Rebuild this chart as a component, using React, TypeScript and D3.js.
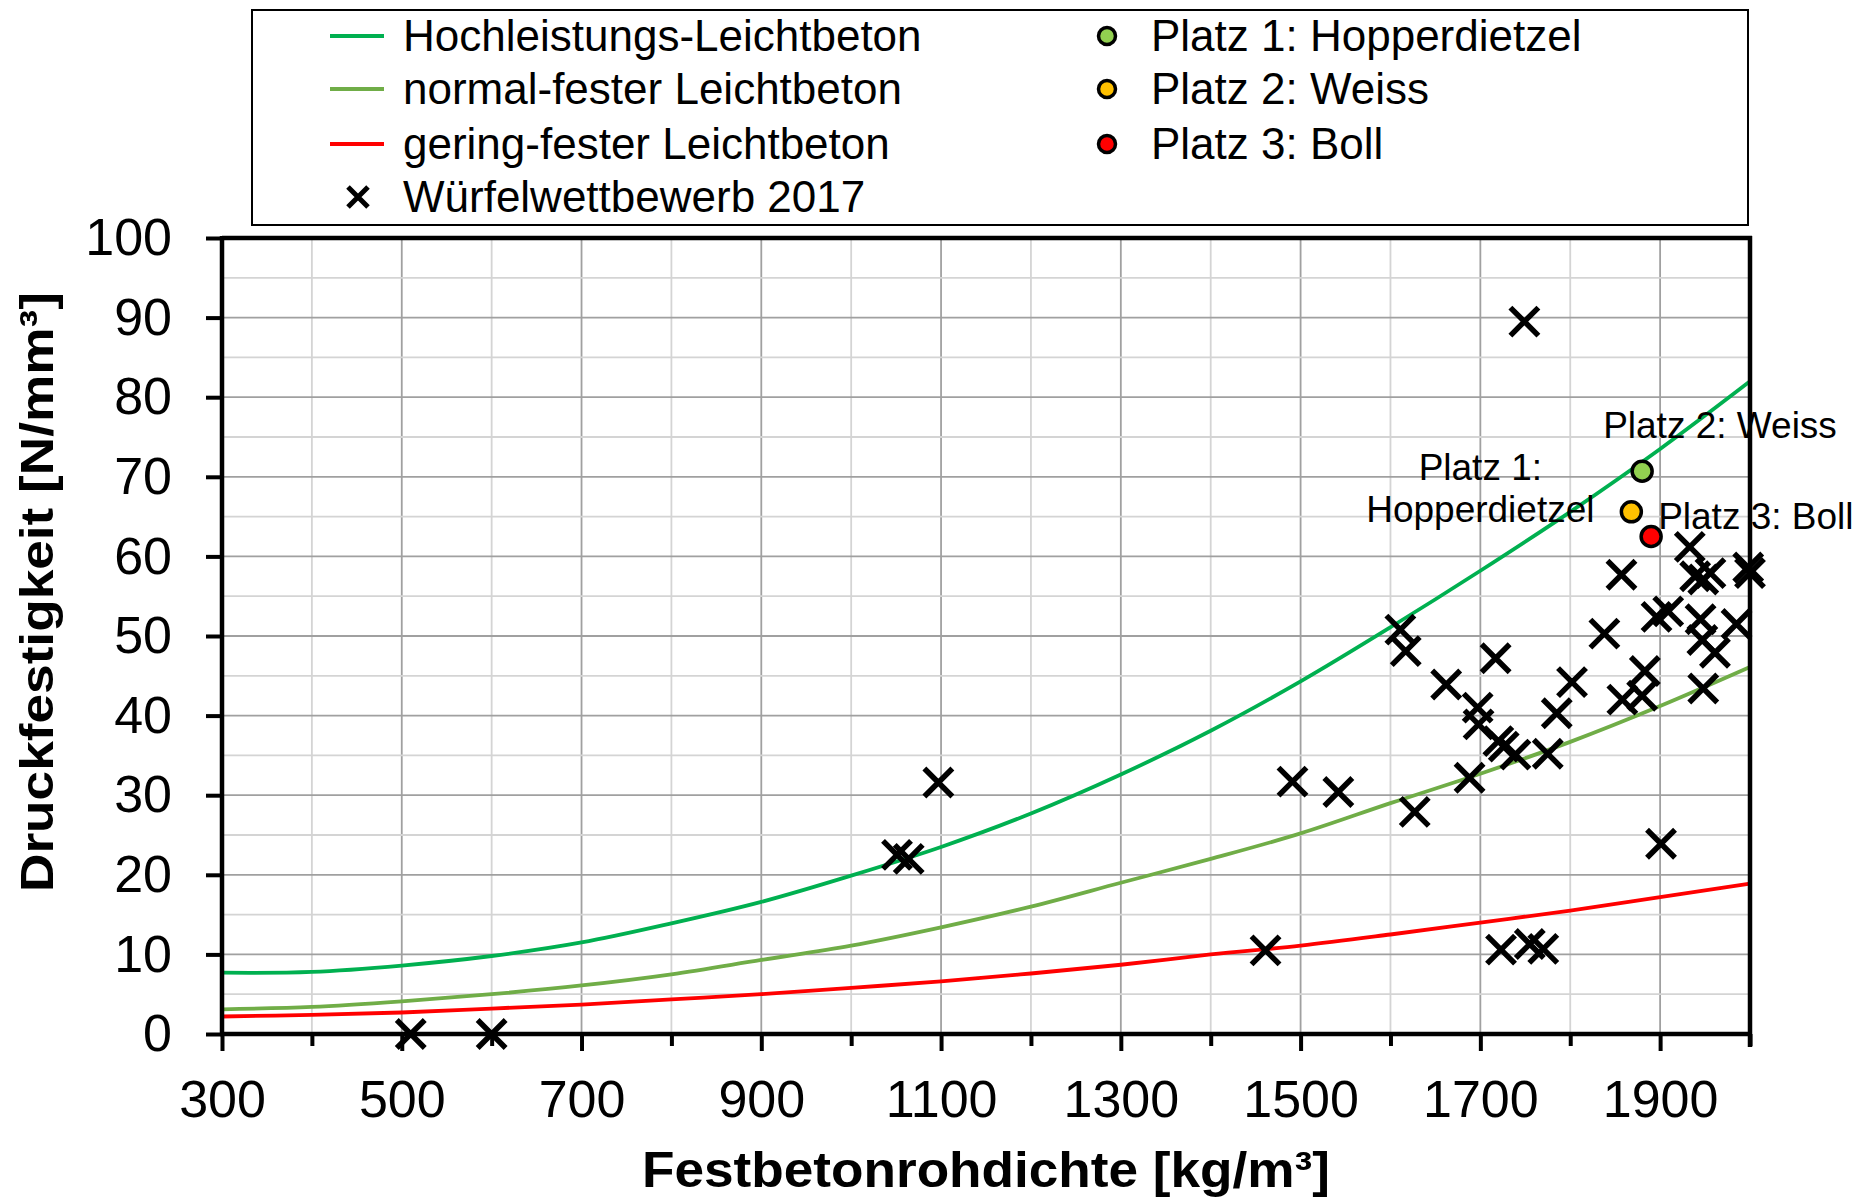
import * as React from 'react'
import { useEffect, useRef } from 'react'
import * as d3 from 'd3'

// Festbetonrohdichte-Stützstellen der Kurven [kg/m³]
const densitySteps = [300, 400, 500, 600, 700, 800, 900, 1000, 1100, 1200, 1300, 1400, 1500, 1600, 1700, 1800, 1900, 2000]
const hochleistung = [7.7, 7.8, 8.6, 9.8, 11.5, 13.9, 16.6, 19.9, 23.5, 27.7, 32.6, 38.1, 44.3, 51.1, 58.2, 65.6, 73.5, 82.0]
const normalFest = [3.1, 3.4, 4.1, 5.0, 6.1, 7.5, 9.3, 11.1, 13.4, 16.0, 19.0, 22.0, 25.2, 29.0, 32.7, 36.7, 41.2, 46.1]
const geringFest = [2.2, 2.4, 2.7, 3.2, 3.7, 4.35, 5.0, 5.8, 6.6, 7.6, 8.7, 10.0, 11.1, 12.5, 14.0, 15.5, 17.2, 18.9]

// Würfelwettbewerb 2017
const wuerfelDichte = [510, 600, 1051, 1064, 1097, 1461, 1491, 1542, 1611, 1617, 1627, 1662, 1688, 1697, 1698, 1717,
  1720, 1726, 1739, 1723, 1755, 1770, 1749, 1775, 1785, 1802, 1838, 1857, 1858, 1880, 1883, 1896, 1909, 1901,
  1933, 1939, 1948, 1956, 1945, 1947, 1961, 1948, 1985, 1998, 2000]
const wuerfelFestigkeit = [0, 0, 22.5, 22.0, 31.6, 10.5, 31.7, 30.4, 50.8, 48.1, 27.9, 43.9, 32.2, 41.0, 38.9, 47.2,
  36.8, 36.1, 35.1, 10.6, 11.3, 10.7, 89.5, 35.2, 40.3, 44.2, 50.3, 57.7, 42.0, 42.5, 45.6, 52.4, 53.1, 23.9,
  61.2, 57.5, 57.1, 57.9, 52.1, 49.5, 47.9, 43.4, 51.5, 58.6, 57.9]

const platzNamen = ['Platz 1: Hopperdietzel', 'Platz 2: Weiss', 'Platz 3: Boll']
const platzDichte = [1880, 1868, 1890]
const platzFestigkeit = [70.7, 65.6, 62.5]
const platzFarben = ['#92D050', '#FFC000', '#FF0000']

const kurvenNamen = ['Hochleistungs-Leichtbeton', 'normal-fester Leichtbeton', 'gering-fester Leichtbeton']
const kurvenFarben = ['#00B050', '#70AD47', '#FF0000']

const xTickLabels = [300, 500, 700, 900, 1100, 1300, 1500, 1700, 1900]
const yTickLabels = [0, 10, 20, 30, 40, 50, 60, 70, 80, 90, 100]

const FONT = '"Liberation Sans", Arial, sans-serif'

const App = () => {
  const chartRef = useRef<SVGSVGElement>(null)
  const width = 1870
  const height = 1201

  useEffect(() => {
    document.body.style.margin = '0'
    const svg = d3.select(chartRef.current)
    svg.selectAll('*').remove()

    const left = 222, right = 1750, top = 238, bottom = 1034

    const x = d3.scaleLinear().domain([300, 2000]).range([left, right])
    const y = d3.scaleLinear().domain([0, 100]).range([bottom, top])

    // Gitternetz
    const grid = svg.append('g')
    d3.range(400, 2000, 100).forEach(v => {
      grid.append('line')
        .attr('x1', x(v)).attr('x2', x(v)).attr('y1', top).attr('y2', bottom)
        .attr('stroke', (v - 300) % 200 === 0 ? '#A0A0A0' : '#D4D4D4')
        .attr('stroke-width', 1.8)
    })
    d3.range(5, 100, 5).forEach(v => {
      grid.append('line')
        .attr('x1', left).attr('x2', right).attr('y1', y(v)).attr('y2', y(v))
        .attr('stroke', v % 10 === 0 ? '#A0A0A0' : '#D4D4D4')
        .attr('stroke-width', 1.8)
    })

    // Kurven
    const kurven = [hochleistung, normalFest, geringFest]
    const line = d3.line<number>()
      .x((d, i) => x(densitySteps[i]))
      .y(d => y(d))
      .curve(d3.curveCatmullRom.alpha(0.5))
    kurven.forEach((werte, k) => {
      svg.append('path')
        .attr('d', line(werte))
        .attr('fill', 'none')
        .attr('stroke', kurvenFarben[k])
        .attr('stroke-width', 3.8)
    })

    // Achsen
    const yAxis = svg.append('g')
      .attr('transform', `translate(${left},0)`)
      .call(d3.axisLeft(y).tickValues(yTickLabels).tickSize(16).tickSizeOuter(0).tickPadding(34))
    yAxis.select('.domain').remove()
    yAxis.selectAll('line').attr('stroke', '#000').attr('stroke-width', 4)
    yAxis.selectAll('text')
      .style('font-size', '52px')
      .style('font-family', FONT)
      .attr('fill', '#000')

    svg.append('g')
      .attr('transform', `translate(0,${bottom})`)
      .call(d3.axisBottom(x).tickValues(d3.range(400, 2001, 200)).tickSize(12).tickSizeOuter(0).tickFormat(() => ''))
      .call(g => g.select('.domain').remove())
      .selectAll('line').attr('stroke', '#000').attr('stroke-width', 4)

    const xAxis = svg.append('g')
      .attr('transform', `translate(0,${bottom})`)
      .call(d3.axisBottom(x).tickValues(xTickLabels).tickSize(17).tickSizeOuter(0).tickPadding(29).tickFormat(d3.format('d')))
    xAxis.select('.domain').remove()
    xAxis.selectAll('line').attr('stroke', '#000').attr('stroke-width', 4)
    xAxis.selectAll('text')
      .style('font-size', '52px')
      .style('font-family', FONT)
      .attr('fill', '#000')

    // Rahmen
    const frame = svg.append('g').attr('stroke', '#000').attr('stroke-width', 4.5)
    frame.append('line').attr('x1', left).attr('x2', left).attr('y1', top - 2).attr('y2', bottom + 2)
    frame.append('line').attr('x1', left - 2).attr('x2', right + 2).attr('y1', bottom).attr('y2', bottom)
    frame.append('line').attr('x1', left).attr('x2', right + 2).attr('y1', top).attr('y2', top)
    frame.append('line').attr('x1', right).attr('x2', right).attr('y1', top - 2).attr('y2', bottom + 13)

    // Würfel
    const kreuz = 'M-14,-14L14,14M-14,14L14,-14'
    svg.append('g').selectAll('path')
      .data(wuerfelDichte)
      .enter()
      .append('path')
      .attr('d', kreuz)
      .attr('transform', (d, i) => `translate(${x(d)},${y(wuerfelFestigkeit[i])})`)
      .attr('stroke', '#000')
      .attr('stroke-width', 5.5)
      .attr('fill', 'none')

    // Platzierungen
    svg.append('g').selectAll('circle')
      .data(platzDichte)
      .enter()
      .append('circle')
      .attr('cx', d => x(d))
      .attr('cy', (d, i) => y(platzFestigkeit[i]))
      .attr('r', 10)
      .attr('fill', (d, i) => platzFarben[i])
      .attr('stroke', '#000')
      .attr('stroke-width', 3.5)

    const beschriftung = svg.append('g')
      .style('font-family', FONT)
      .style('font-size', '37px')
      .attr('fill', '#000')
    beschriftung.append('text')
      .attr('x', x(platzDichte[0]) - 39)
      .attr('y', y(platzFestigkeit[0]) - 33)
      .text('Platz 2: Weiss')
    beschriftung.append('text')
      .attr('x', x(platzDichte[1]) - 151)
      .attr('y', y(platzFestigkeit[1]) - 32)
      .attr('text-anchor', 'middle')
      .text('Platz 1:')
    beschriftung.append('text')
      .attr('x', x(platzDichte[1]) - 151)
      .attr('y', y(platzFestigkeit[1]) + 10)
      .attr('text-anchor', 'middle')
      .text('Hopperdietzel')
    beschriftung.append('text')
      .attr('x', x(platzDichte[2]) + 7)
      .attr('y', y(platzFestigkeit[2]) - 8)
      .text('Platz 3: Boll')

    // Achsentitel
    svg.append('text')
      .attr('x', (left + right) / 2)
      .attr('y', 1187)
      .attr('text-anchor', 'middle')
      .attr('textLength', 688)
      .attr('lengthAdjust', 'spacingAndGlyphs')
      .style('font-family', FONT)
      .style('font-weight', 'bold')
      .style('font-size', '50px')
      .text('Festbetonrohdichte [kg/m³]')

    svg.append('text')
      .attr('transform', `translate(53,${(top + bottom) / 2 - 44}) rotate(-90)`)
      .attr('text-anchor', 'middle')
      .attr('textLength', 600)
      .attr('lengthAdjust', 'spacingAndGlyphs')
      .style('font-family', FONT)
      .style('font-weight', 'bold')
      .style('font-size', '46px')
      .text('Druckfestigkeit [N/mm³]')

    // Legende
    const legend = svg.append('g')
    legend.append('rect')
      .attr('x', 252).attr('y', 10).attr('width', 1496).attr('height', 215)
      .attr('fill', '#fff').attr('stroke', '#000').attr('stroke-width', 2)
    const rowY = [36, 89, 144, 197]
    kurvenNamen.forEach((name, k) => {
      legend.append('line')
        .attr('x1', 330).attr('x2', 384).attr('y1', rowY[k]).attr('y2', rowY[k])
        .attr('stroke', kurvenFarben[k]).attr('stroke-width', 3.8)
      legend.append('text')
        .attr('x', 403).attr('y', rowY[k] + 15)
        .style('font-family', FONT).style('font-size', '44px')
        .text(name)
    })
    legend.append('path')
      .attr('d', 'M-10,-10L10,10M-10,10L10,-10')
      .attr('transform', `translate(358,${rowY[3]})`)
      .attr('stroke', '#000').attr('stroke-width', 5)
    legend.append('text')
      .attr('x', 403).attr('y', rowY[3] + 15)
      .style('font-family', FONT).style('font-size', '44px')
      .text('Würfelwettbewerb 2017')
    platzNamen.forEach((name, k) => {
      legend.append('circle')
        .attr('cx', 1107).attr('cy', rowY[k]).attr('r', 8.5)
        .attr('fill', platzFarben[k]).attr('stroke', '#000').attr('stroke-width', 3.5)
      legend.append('text')
        .attr('x', 1151).attr('y', rowY[k] + 15)
        .style('font-family', FONT).style('font-size', '44px')
        .text(name)
    })
  }, [])

  return (
    <svg ref={chartRef} width={width} height={height} style={{ display: 'block', background: '#fff' }}></svg>
  )
}

export default App
